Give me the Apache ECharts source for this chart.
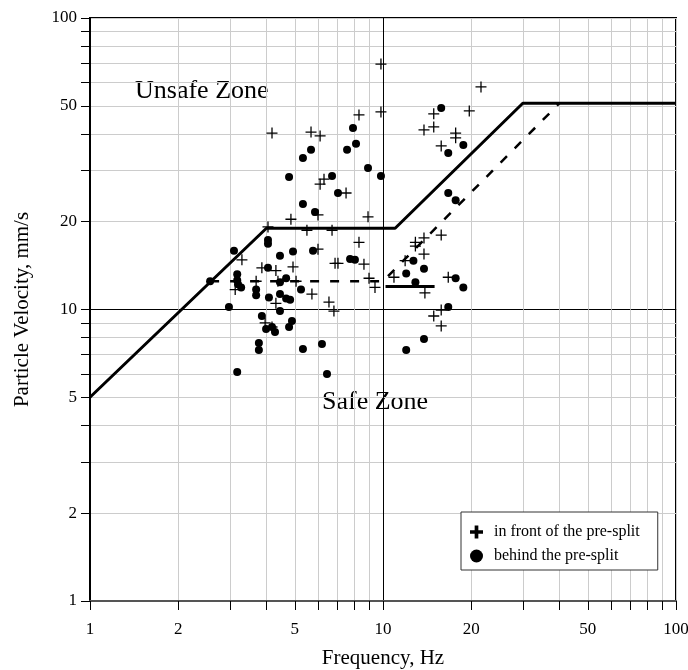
<!DOCTYPE html>
<html><head><meta charset="utf-8">
<script src="https://cdn.jsdelivr.net/npm/echarts@6/dist/echarts.min.js"></script>
<style>html,body{margin:0;padding:0;background:#fff}#c{width:688px;height:670px}</style>
</head><body><div id="c"></div>
<script>
const FONT = '"Liberation Serif","Times New Roman",serif';
const tickValues = [1,2,3,4,5,6,7,8,9,10,20,30,40,50,60,70,80,90,100];
const labelValues = [1,2,5,10,20,50,100];

// in front of the pre-split: [frequency Hz, velocity mm/s]
const inFront = [
[4.18,40.3],[5.68,40.6],[6.10,39.4],[8.28,46.5],[9.84,47.6],[9.84,69.5],[21.6,58.0],[19.7,48.0],
[14.9,46.9],[14.9,42.3],[13.8,41.3],[17.7,40.3],[17.7,38.8],[15.8,36.4],[6.29,28.0],[6.10,26.9],
[7.48,25.1],[6.00,21.1],[4.85,20.4],[8.89,20.8],[4.05,19.2],[5.50,18.7],[6.70,18.7],[8.28,17.0],
[15.8,18.0],[13.8,17.6],[12.9,17.0],[12.9,16.5],[13.8,15.5],[11.9,14.7],[6.00,16.1],[3.30,14.8],
[6.86,14.4],[7.02,14.4],[8.61,14.3],[3.86,13.9],[4.93,14.0],[4.31,13.6],[3.69,12.5],[4.38,12.5],
[5.05,12.5],[3.13,11.7],[8.96,12.8],[9.39,11.9],[10.9,12.9],[16.7,12.9],[13.9,11.4],[5.72,11.3],
[4.31,10.5],[6.54,10.6],[6.80,9.88],[3.96,8.99],[4.18,8.71],[15.8,9.96],[14.9,9.50],[15.8,8.78]
];
// behind the pre-split
const behind = [
[7.90,41.9],[8.09,37.0],[7.54,35.3],[5.68,35.3],[5.33,33.1],[8.89,30.6],[9.84,28.7],[4.78,28.5],
[6.70,28.7],[7.02,25.1],[5.33,23.0],[5.86,21.6],[4.05,17.3],[4.05,16.8],[3.10,15.9],[4.45,15.3],
[4.93,15.8],[5.77,15.9],[7.72,14.9],[8.02,14.8],[4.05,13.9],[3.18,13.2],[3.18,12.6],[3.20,12.2],
[3.28,11.9],[3.69,11.7],[3.69,11.2],[4.45,12.4],[4.67,12.8],[5.25,11.7],[4.45,11.3],[4.67,10.9],
[4.82,10.8],[4.08,11.0],[2.98,10.2],[4.45,9.88],[3.86,9.50],[3.99,8.57],[4.18,8.71],[4.28,8.37],
[4.89,9.13],[4.78,8.71],[3.77,7.67],[3.77,7.26],[5.33,7.32],[6.19,7.61],[3.18,6.10],[6.44,6.01],
[2.57,12.5],[15.8,49.1],[18.8,36.7],[16.7,34.4],[16.7,25.1],[17.7,23.7],[12.7,14.7],[13.8,13.8],
[12.0,13.3],[12.9,12.4],[17.7,12.8],[18.8,11.9],[16.7,10.2],[13.8,7.92],[12.0,7.26]
];
const limitSolid = [[1,5],[4,19],[11,19],[30,51],[100,51]];
const limitDashed = [[2.57,12.5],[10,12.5],[40,51]];
const shortSegment = [[10.2,12],[15,12]];

const thinPlus = 'path://M-1.4,-12H1.4V-1.4H12V1.4H1.4V12H-1.4V1.4H-12V-1.4H-1.4Z';
const boldPlus = 'path://M-1.7,-6H1.7V-1.7H6V1.7H1.7V6H-1.7V1.7H-6V-1.7H-1.7Z';
const gridColors = tickValues.map(v => v === 10 ? '#000' : '#cccccc');

const chart = echarts.init(document.getElementById('c'), null, {renderer:'canvas'});
const axisCommon = {
  type:'log', logBase:10, min:1, max:100,
  nameLocation:'middle',
  nameTextStyle:{fontFamily:FONT, fontSize:21, color:'#000'},
  axisTick:{show:true, inside:false, length:9, customValues:tickValues, lineStyle:{color:'#000', width:1}},
  axisLabel:{customValues:labelValues, fontFamily:FONT, fontSize:17, color:'#000'},
  splitLine:{show:true, lineStyle:{color:gridColors, width:1}},
  minorTick:{show:false}, minorSplitLine:{show:false}
};
chart.setOption({
  animation:false,
  backgroundColor:'#fff',
  grid:{left:90, right:12, top:18, bottom:69, containLabel:false, outerBoundsMode:'none',
        show:true, borderColor:'#000', borderWidth:2, backgroundColor:'transparent'},
  xAxis: Object.assign({}, axisCommon, {
    name:'Frequency, Hz', nameGap:47,
    axisLine:{show:true, onZero:false, lineStyle:{color:'#555', width:2}},
    axisLabel: Object.assign({}, axisCommon.axisLabel, {margin:20})
  }),
  yAxis: Object.assign({}, axisCommon, {
    name:'Particle Velocity, mm/s', nameGap:57,
    axisLine:{show:true, onZero:false, lineStyle:{color:'#000', width:2}},
    axisLabel: Object.assign({}, axisCommon.axisLabel, {margin:13})
  }),
  legend:{
    data:[{name:'in front of the pre-split', icon:boldPlus},{name:'behind the pre-split', icon:'circle'}],
    orient:'vertical', left:461, top:512, padding:[12,18,6,9], itemGap:8,
    itemWidth:13, itemHeight:13, borderColor:'#333', borderWidth:1, borderRadius:0,
    backgroundColor:'#fff',
    textStyle:{fontFamily:FONT, fontSize:16, color:'#000', padding:[0,0,0,6]}
  },
  graphic:[
    {type:'text', left:135, top:78, style:{text:'Unsafe Zone', font:'26px '+FONT, fill:'#000'}},
    {type:'text', left:322, top:389, style:{text:'Safe Zone', font:'26px '+FONT, fill:'#000'}}
  ],
  series:[
    {type:'line', data:limitSolid, symbol:'none', lineStyle:{color:'#000', width:3}, z:3, silent:true},
    {type:'line', data:limitDashed, symbol:'none', lineStyle:{color:'#000', width:2.5, type:[9,11]}, z:3, silent:true},
    {type:'line', data:shortSegment, symbol:'none', lineStyle:{color:'#000', width:3}, z:3, silent:true},
    {name:'in front of the pre-split', type:'scatter', data:inFront, symbol:thinPlus, symbolSize:11,
     itemStyle:{color:'#000', opacity:1}, z:4},
    {name:'behind the pre-split', type:'scatter', data:behind, symbol:'circle', symbolSize:8,
     itemStyle:{color:'#000', opacity:1}, z:4}
  ]
});
</script>
</body></html>
